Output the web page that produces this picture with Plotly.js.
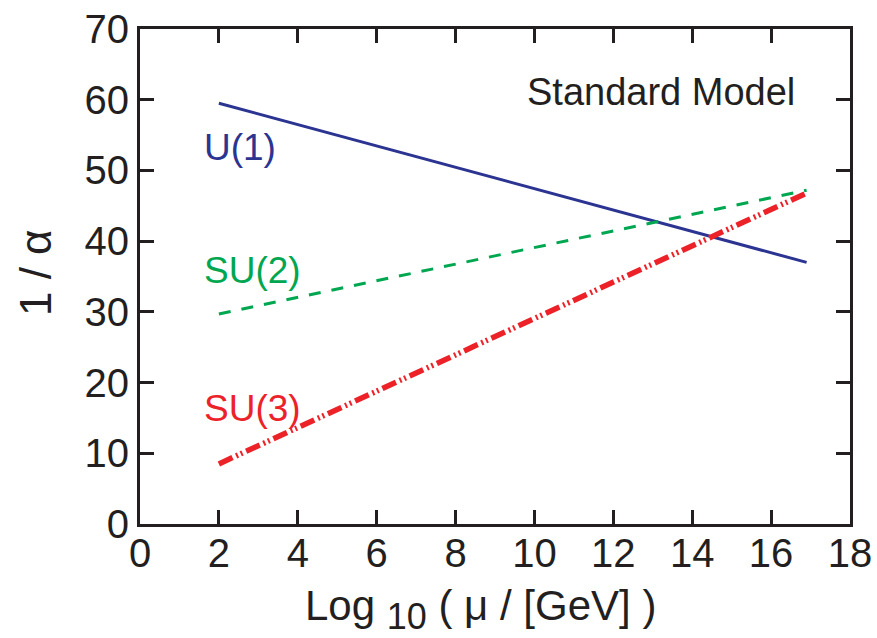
<!DOCTYPE html>
<html>
<head>
<meta charset="utf-8">
<script src="https://cdn.plot.ly/plotly-3.0.1.min.js"></script>
<style>html,body{margin:0;padding:0;background:#fff}#chart{width:877px;height:638px}</style>
</head>
<body>
<div id="chart"></div>
<script>
// log10(mu/GeV) and inverse couplings
const logMu = [2, 16.9];
const invAlphaU1 = [59.5, 37.0];
const invAlphaSU2 = [29.7, 47.2];
const invAlphaSU3 = [8.5, 46.8];
const seriesNames = ["U(1)", "SU(2)", "SU(3)"];
const xTicks = [0, 2, 4, 6, 8, 10, 12, 14, 16, 18];
const yTicks = [0, 10, 20, 30, 40, 50, 60, 70];
const xTitle = "Log <sub><span style=\"font-size:36px\">10</span></sub> ( μ / [GeV] )";
const yTitle = "1 / α";

const blue = "#2B3491", green = "#00A650", red = "#ED2229";
const FONT = "Liberation Sans, Arial, Helvetica, sans-serif";
const INK = "#231F20";

const traces = [
  {x: logMu, y: invAlphaU1, name: seriesNames[0], mode: "lines",
   line: {color: blue, width: 3}},
  {x: logMu, y: invAlphaSU2, name: seriesNames[1], mode: "lines",
   line: {color: green, width: 3, dash: "12px,11px"}},
  {x: logMu, y: invAlphaSU3, name: seriesNames[2], mode: "lines",
   line: {color: red, width: 5.5, dash: "15px,4px,2px,3px,2px,4px"}}
];

const axisCommon = {
  showgrid: false, zeroline: false, showline: true, linecolor: INK, linewidth: 3,
  mirror: "ticks", ticks: "inside", ticklen: 14, tickwidth: 3, tickcolor: INK,
  tickfont: {family: FONT, size: 40, color: INK}
};

const layout = {
  width: 877, height: 638,
  margin: {l: 140, r: 27, t: 29, b: 114},
  paper_bgcolor: "#fff", plot_bgcolor: "#fff",
  showlegend: false,
  font: {family: FONT, color: INK},
  xaxis: Object.assign({}, axisCommon, {
    range: [0, 18], tickvals: xTicks, ticktext: xTicks.map(String),
    ticklabelstandoff: -8
  }),
  yaxis: Object.assign({}, axisCommon, {
    range: [0, 70], tickvals: yTicks, ticktext: yTicks.map(String),
    ticklabelstandoff: 0
  }),
  annotations: [
    {x: 0.2296, y: -0.1737, xref: "paper", yref: "paper", text: xTitle, showarrow: false,
     font: {family: FONT, size: 42, color: INK}, xanchor: "left", yanchor: "middle"},
    {x: -0.1479, y: 0.509, xref: "paper", yref: "paper", text: yTitle, showarrow: false,
     textangle: -90, font: {family: FONT, size: 44, color: INK}, xanchor: "center", yanchor: "middle"},
    {x: 2.54, y: 53.3, xref: "x", yref: "y", text: seriesNames[0], showarrow: false,
     font: {family: FONT, size: 37, color: blue}, xanchor: "center", yanchor: "middle"},
    {x: 2.85, y: 35.8, xref: "x", yref: "y", text: seriesNames[1], showarrow: false,
     font: {family: FONT, size: 37, color: green}, xanchor: "center", yanchor: "middle"},
    {x: 2.85, y: 16.4, xref: "x", yref: "y", text: seriesNames[2], showarrow: false,
     font: {family: FONT, size: 37, color: red}, xanchor: "center", yanchor: "middle"},
    {x: 13.2, y: 61.1, xref: "x", yref: "y", text: "Standard Model", showarrow: false,
     font: {family: FONT, size: 38, color: INK}, xanchor: "center", yanchor: "middle"}
  ]
};

Plotly.newPlot("chart", traces, layout, {displayModeBar: false, staticPlot: true});
</script>
</body>
</html>
